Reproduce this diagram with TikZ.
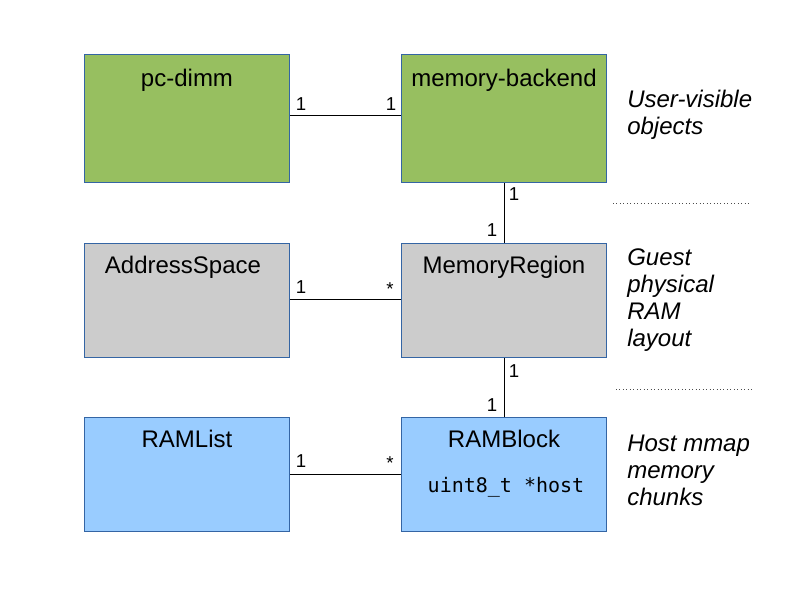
\documentclass[tikz,border=0pt]{standalone}
\usepackage{fontspec}
\setmainfont{Liberation Sans}
\newfontfamily\monofont{DejaVu Sans Mono}
\usetikzlibrary{positioning}

\definecolor{objgreen}{HTML}{97BF60}
\definecolor{layoutgray}{HTML}{CCCCCC}
\definecolor{hostblue}{HTML}{99CCFF}
\definecolor{edgeblue}{HTML}{3465A4}

\begin{document}
\begin{tikzpicture}[x=0.75pt,y=-0.75pt,
	box/.style={draw=edgeblue,line width=0.75pt,minimum width=153.75pt,inner sep=0pt,anchor=north west},
	title/.style={font=\fontsize{18}{21}\selectfont,anchor=base,inner sep=0pt},
	mult/.style={font=\fontsize{14}{16}\selectfont,inner sep=0pt},
	side/.style={font=\fontsize{18}{20.25}\selectfont\itshape,align=left,anchor=north west,inner sep=0pt},
	conn/.style={line width=0.75pt}]
	\useasboundingbox (0,0) rectangle (800,600);

	% user-visible objects
	\node[box,fill=objgreen,minimum height=96pt] (pcdimm) at (84,54) {};
	\node[box,fill=objgreen,minimum height=96pt] (backend) at (401,54) {};
	\node[title] at ([yshift=-24pt]pcdimm.north) {pc-dimm};
	\node[title] at ([yshift=-24pt]backend.north) {memory-backend};

	% guest physical RAM layout
	\node[box,fill=layoutgray,minimum height=85.5pt] (addrspace) at (84,243) {};
	\node[box,fill=layoutgray,minimum height=85.5pt] (memregion) at (401,243) {};
	\node[title] at ([xshift=-3pt,yshift=-23pt]addrspace.north) {AddressSpace};
	\node[title] at ([yshift=-23pt]memregion.north) {MemoryRegion};

	% host memory
	\node[box,fill=hostblue,minimum height=85.5pt] (ramlist) at (84,417) {};
	\node[box,fill=hostblue,minimum height=85.5pt] (ramblock) at (401,417) {};
	\node[title] at ([yshift=-23pt]ramlist.north) {RAMList};
	\node[title] at ([yshift=-23pt]ramblock.north) {RAMBlock};
	\node[anchor=base,inner sep=0pt,font=\monofont\fontsize{15}{18}\selectfont] (hostptr) at (506,492) {uint8\_t *host};

	% associations
	\draw[conn] ([yshift=2pt]pcdimm.east) -- ([yshift=2pt]backend.west)
		node[mult,pos=0,xshift=8.25pt,yshift=9pt] {1} node[mult,pos=1,xshift=-7.5pt,yshift=9pt] {1};
	\draw[conn] ([yshift=1pt]addrspace.east) -- ([yshift=1pt]memregion.west)
		node[mult,pos=0,xshift=8.25pt,yshift=9pt] {1} node[mult,pos=1,xshift=-8.25pt,yshift=7.5pt] {*};
	\draw[conn] (ramlist.east) -- (ramblock.west)
		node[mult,pos=0,xshift=8.25pt,yshift=9.75pt] {1} node[mult,pos=1,xshift=-8.25pt,yshift=8.25pt] {*};
	\draw[conn] (backend.south) -- (memregion.north)
		node[mult,pos=0,xshift=7.5pt,yshift=-8.25pt] {1} node[mult,pos=1,xshift=-9pt,yshift=9.75pt] {1};
	\draw[conn] (memregion.south) -- (ramblock.north)
		node[mult,pos=0,xshift=7.5pt,yshift=-9.75pt] {1} node[mult,pos=1,xshift=-9pt,yshift=9pt] {1};

	% separators
	\coordinate (sepa) at (613,203);
	\coordinate (sepb) at (616,389);
	\draw[black!70,dotted,line width=0.6pt] (sepa) -- ++(137,0);
	\draw[black!70,dotted,line width=0.6pt] (sepb) -- ++(137,0);

	\node[side] (uservis) at (627,90) {User-visible\\objects};
	\node[side] (guestram) at (627,248) {Guest\\physical\\RAM\\layout};
	\node[side] (hostmmap) at (627,435) {Host mmap\\memory\\chunks};
\end{tikzpicture}
\end{document}
